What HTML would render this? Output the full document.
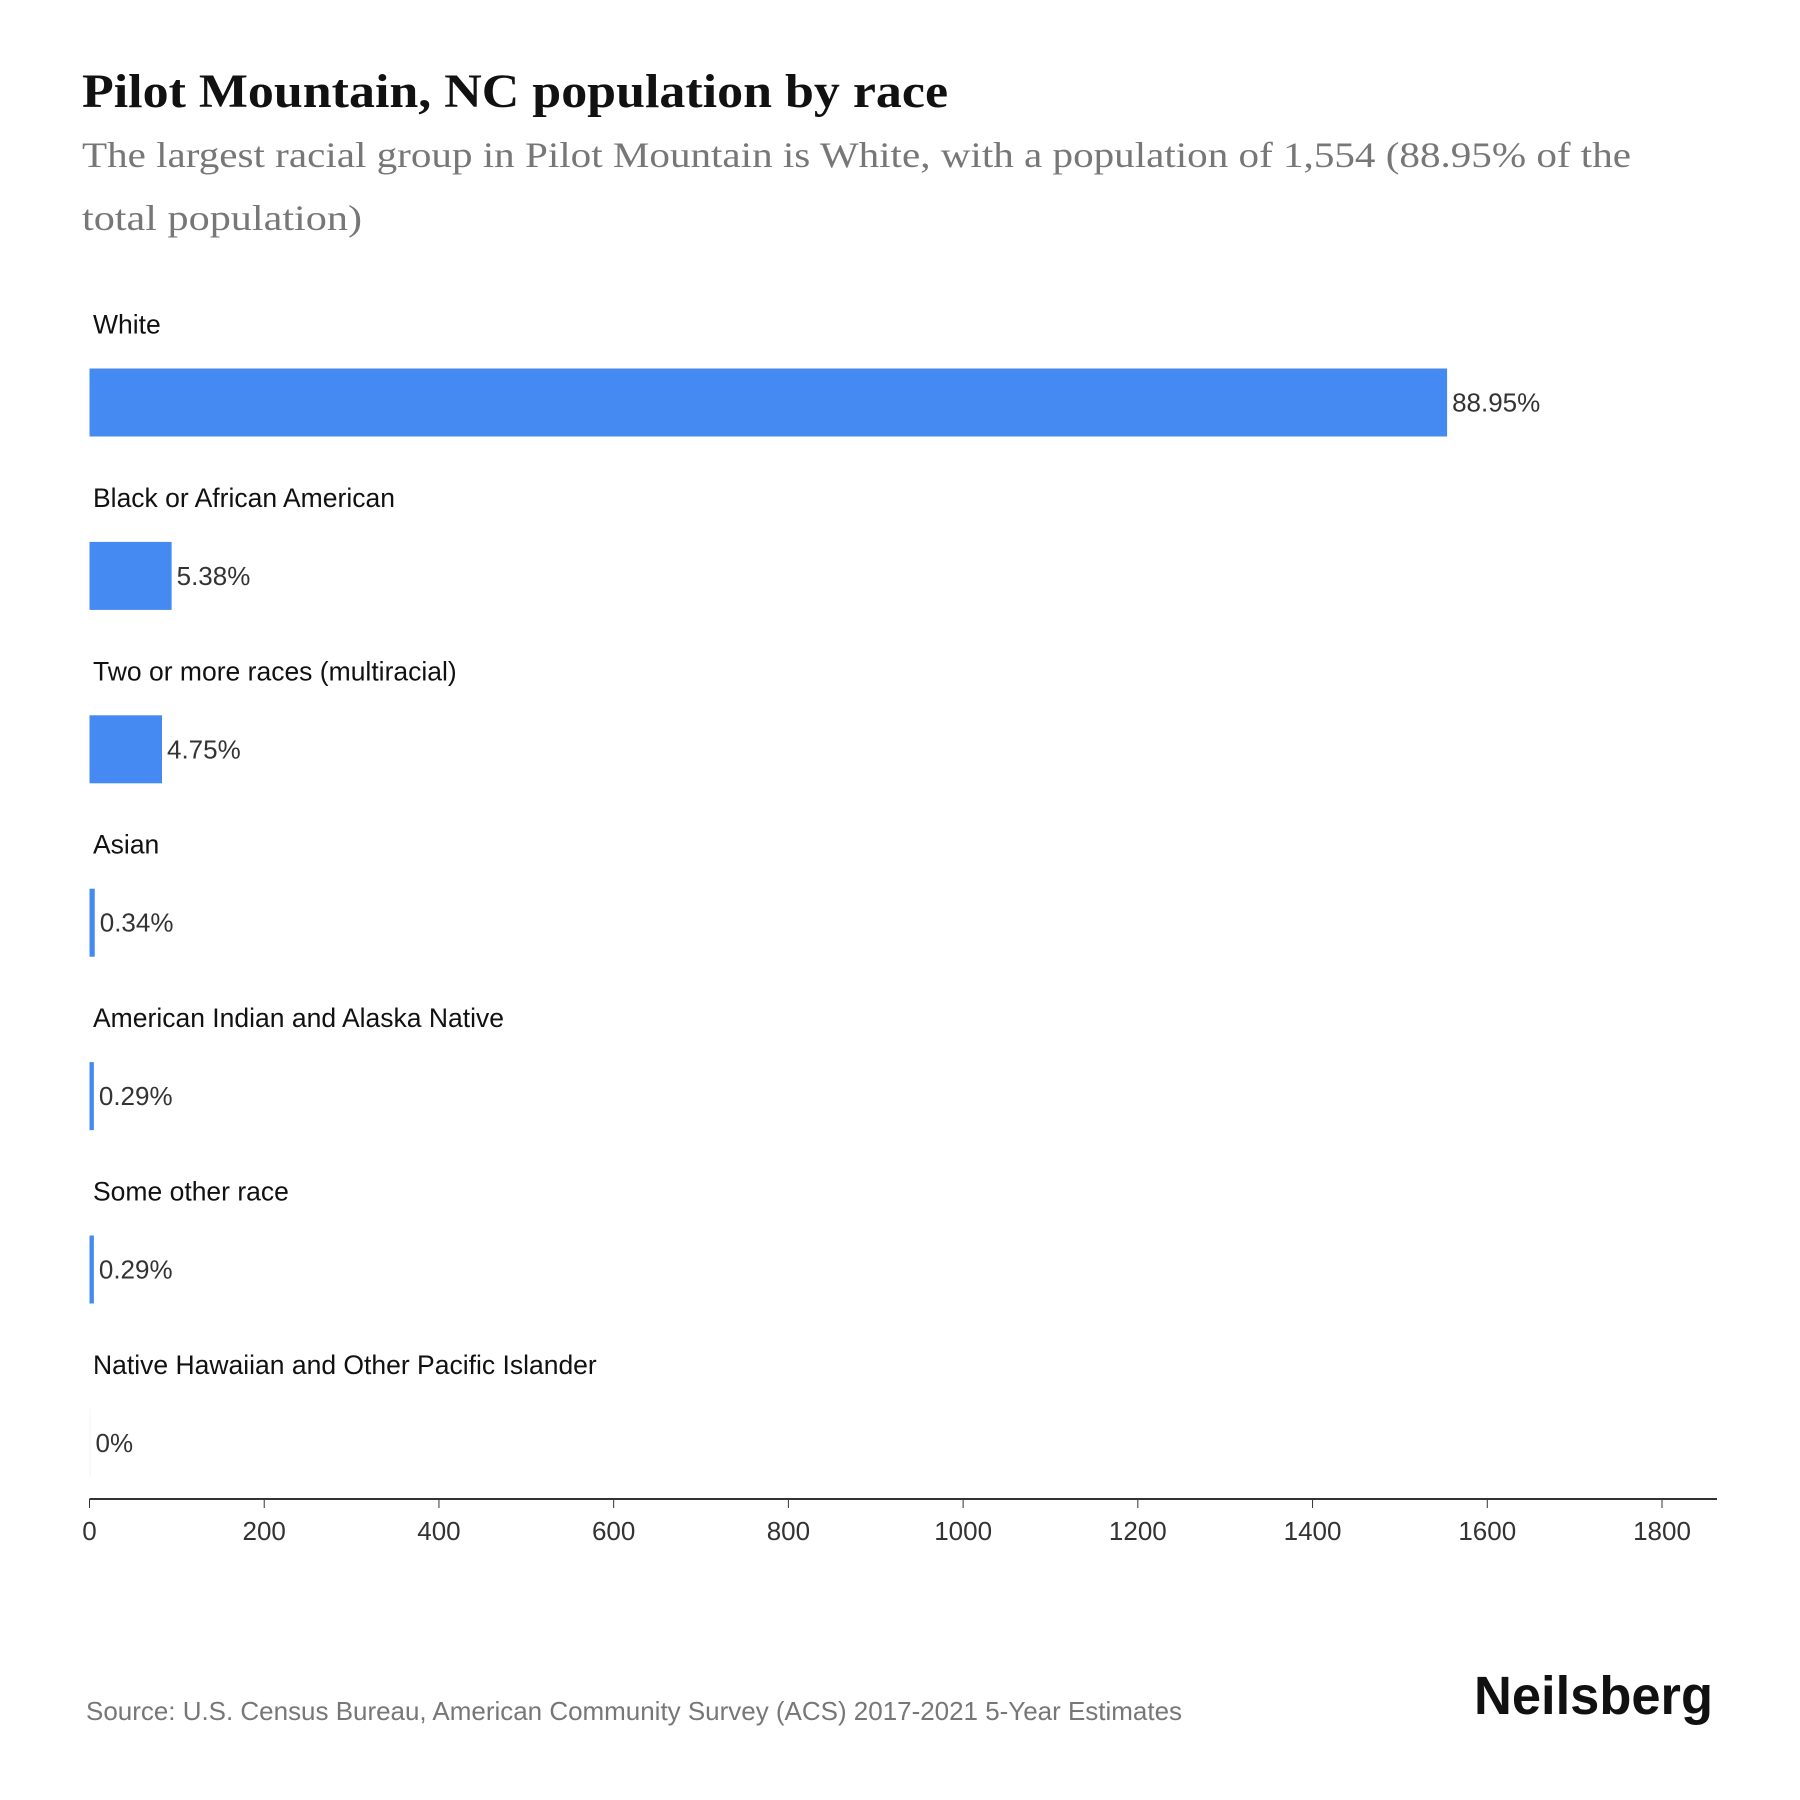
<!DOCTYPE html>
<html><head><meta charset="utf-8"><style>
html,body{margin:0;padding:0;background:#fff;}
svg{display:block;}
</style></head><body>
<svg id="chart" width="1800" height="1800" viewBox="0 0 1800 1800" xmlns="http://www.w3.org/2000/svg">
<rect width="1800" height="1800" fill="#fff"/>
<text x="82" y="107" font-family="Liberation Serif, serif" font-weight="bold" font-size="48" fill="#111" textLength="866" lengthAdjust="spacingAndGlyphs">Pilot Mountain, NC population by race</text>
<text x="82" y="167" font-family="Liberation Serif, serif" font-size="36" fill="#777" textLength="1549" lengthAdjust="spacingAndGlyphs">The largest racial group in Pilot Mountain is White, with a population of 1,554 (88.95% of the</text>
<text x="82" y="230" font-family="Liberation Serif, serif" font-size="36" fill="#777" textLength="280" lengthAdjust="spacingAndGlyphs">total population)</text>
<g id="bars"></g>
<g id="axis"></g>
<text x="86" y="1720" font-family="Liberation Sans, sans-serif" font-size="26" fill="#777" textLength="1096" lengthAdjust="spacingAndGlyphs">Source: U.S. Census Bureau, American Community Survey (ACS) 2017-2021 5-Year Estimates</text>
<text x="1713" y="1714" text-anchor="end" font-family="Liberation Sans, sans-serif" font-weight="bold" font-size="54" fill="#111" textLength="239" lengthAdjust="spacingAndGlyphs">Neilsberg</text>
</svg>
<script>
const categories = ["White","Black or African American","Two or more races (multiracial)","Asian","American Indian and Alaska Native","Some other race","Native Hawaiian and Other Pacific Islander"];
const values = [1554, 94, 83, 6, 5, 5, 0];
const percentLabels = ["88.95%","5.38%","4.75%","0.34%","0.29%","0.29%","0%"];
const ticks = [0,200,400,600,800,1000,1200,1400,1600,1800];

const NS = "http://www.w3.org/2000/svg";
const x0 = 89.5, x1 = 1662, xMax = 1800;
const xScale = v => x0 + (v / xMax) * (x1 - x0);
const rowY = i => 368.5 + i * 173.4;
const barH = 68;
function mk(tag, attrs, parent, text){
  const e = document.createElementNS(NS, tag);
  for (const k in attrs) e.setAttribute(k, attrs[k]);
  if (text !== undefined) e.textContent = text;
  parent.appendChild(e); return e;
}
const gb = document.getElementById('bars');
categories.forEach((c, i) => {
  const y = rowY(i);
  const lab = mk('text', {x: 93, y: y - 35, 'font-family': 'Liberation Sans, sans-serif', 'font-size': 26.5, fill: '#111'}, gb, c);
  
  
  const w = Math.max(xScale(values[i]) - x0, values[i] > 0 ? 4 : 1);
  const r = mk('rect', {x: x0, y: y, width: w, height: barH, fill: values[i] > 0 ? '#4589f3' : '#eef3fd'}, gb);
  
  
  const vl = mk('text', {x: x0 + w + 5, y: y + barH / 2 + 9, 'font-family': 'Liberation Sans, sans-serif', 'font-size': 26, fill: '#333'}, gb, percentLabels[i]);
  
  
});
const ga = document.getElementById('axis');
const al = mk('line', {x1: x0, x2: 1717, y1: 1499, y2: 1499, stroke: '#333', 'stroke-width': 2}, ga);


ticks.forEach(t => {
  const x = xScale(t);
  const tl = mk('line', {x1: x, x2: x, y1: 1499, y2: 1508, stroke: '#333', 'stroke-width': 1}, ga);
  
  
  const tx = mk('text', {x: x, y: 1540, 'text-anchor': 'middle', 'font-family': 'Liberation Sans, sans-serif', 'font-size': 26, fill: '#333'}, ga, String(t));
  
  
});
</script>
</body></html>
